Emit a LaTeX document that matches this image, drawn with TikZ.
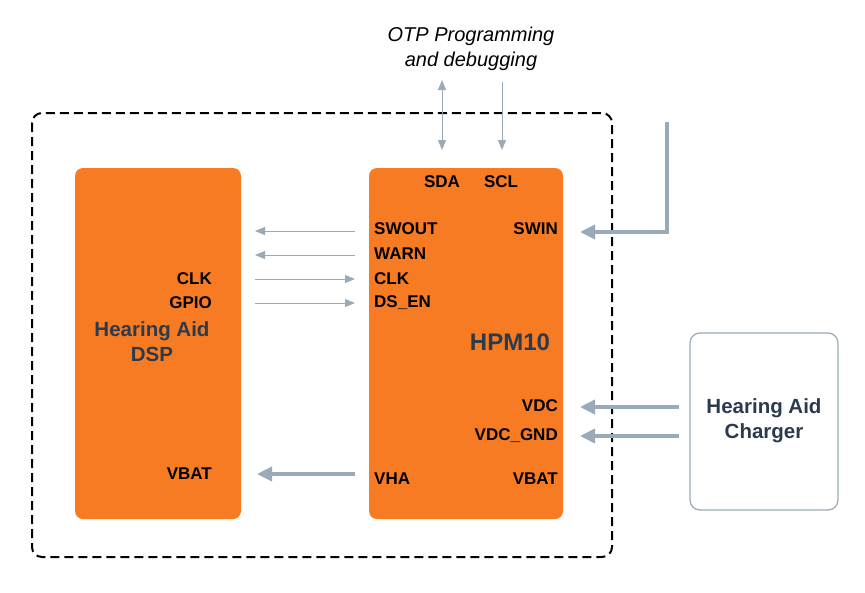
\documentclass[tikz,border=0pt]{standalone}
\usepackage{fontspec}
\setmainfont{Liberation Sans}
\usetikzlibrary{arrows.meta}
\definecolor{org}{HTML}{F77B22}
\definecolor{arr}{HTML}{9AAAB6}
\definecolor{navy}{HTML}{2B3A4C}
\begin{document}
\begin{tikzpicture}[x=1pt,y=-1pt,
  blk/.style={fill=org,draw=none,rounded corners=8pt},
  pin/.style={font=\bfseries\fontsize{17}{20}\selectfont,text=black,inner sep=0pt},
  ttl/.style={font=\bfseries\fontsize{20.5}{25}\selectfont,text=navy,align=center,inner sep=0pt},
  thin/.style={draw=arr,line width=1pt,-{Triangle[length=10pt,width=8pt]}},
  thick/.style={draw=arr,line width=3.5pt,-{Triangle[length=15pt,width=14pt]}}]
\useasboundingbox (0,0) rectangle (865,592);
\draw[dashed,line width=2pt,dash pattern=on 9pt off 5pt,rounded corners=10pt] (32,113) rectangle (612,557);
\path[blk] (75,168) rectangle (241,519);
\path[blk] (369,168) rectangle (563,519);
\node[draw=arr,line width=1.2pt,rounded corners=10pt,minimum width=148pt,minimum height=177pt] (chg) at (764,421.5) {};
\node[ttl] at (764,421) {Hearing Aid\\Charger};
\node[ttl] at (152,342) {Hearing Aid\\DSP};
\node[font=\bfseries\fontsize{24}{28}\selectfont,text=navy] at (510,342) {HPM10};
\node[pin,anchor=east] (dclk) at (212,279) {CLK};
\node[pin,anchor=east] (dgpio) at (212,303) {GPIO};
\node[pin,anchor=east] (dvbat) at (212,474) {VBAT};
\node[pin] (sda) at (442,182) {SDA};
\node[pin] (scl) at (501,182) {SCL};
\node[pin,anchor=west] (swout) at (374,229) {SWOUT};
\node[pin,anchor=west] (warn) at (374,254) {WARN};
\node[pin,anchor=west] (clk) at (374,279) {CLK};
\node[pin,anchor=west] (dsen) at (374,303) {DS\_EN};
\node[pin,anchor=east] (swin) at (558,229) {SWIN};
\node[pin,anchor=east] (vdc) at (558,406) {VDC};
\node[pin,anchor=east] (vdcg) at (558,436) {VDC\_GND};
\node[pin,anchor=west] (vha) at (374,479) {VHA};
\node[pin,anchor=east] (vbat) at (558,479) {VBAT};
\node[font=\itshape\fontsize{20}{25}\selectfont,align=center] (otp) at (471,49) {OTP Programming\\and debugging};
\coordinate (a1) at (355,231); \coordinate (b1) at (255,231);
\coordinate (a2) at (355,255); \coordinate (b2) at (255,255);
\coordinate (a3) at (255,279); \coordinate (b3) at (355,279);
\coordinate (a4) at (255,303); \coordinate (b4) at (355,303);
\draw[thin] (a1) -- (b1);
\draw[thin] (a2) -- (b2);
\draw[thin] (a3) -- (b3);
\draw[thin] (a4) -- (b4);
\coordinate (sdat) at (442,80); \coordinate (sdab) at (442,150);
\coordinate (sclt) at (502,82); \coordinate (sclb) at (502,150);
\draw[thin,{Triangle[length=10pt,width=8pt]}-{Triangle[length=10pt,width=8pt]}] (sdat) -- (sdab);
\draw[thin] (sclt) -- (sclb);
\coordinate (sw0) at (667,122); \coordinate (sw1) at (580,232);
\draw[thick] (sw0) |- (sw1);
\coordinate (v0) at (679,407); \coordinate (v1) at (580,407);
\coordinate (g0) at (679,436); \coordinate (g1) at (580,436);
\draw[thick] (v0) -- (v1);
\draw[thick] (g0) -- (g1);
\coordinate (h0) at (355,474); \coordinate (h1) at (257,474);
\draw[thick] (h0) -- (h1);
\end{tikzpicture}
\end{document}
